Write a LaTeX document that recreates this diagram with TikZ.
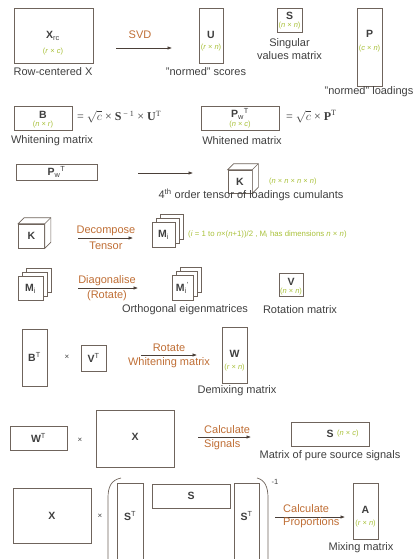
\documentclass[tikz,border=0pt]{standalone}
\usepackage{fontspec}
\setmainfont{Liberation Sans}
\newfontfamily\eqfont{Liberation Serif}
\usetikzlibrary{positioning, calc, arrows.meta}
\definecolor{Dark}{HTML}{3F3F3F}
\definecolor{Rust}{HTML}{BF6E35}
\definecolor{Lime}{HTML}{A9C13A}
\definecolor{Frame}{HTML}{6F645C}
\definecolor{Shaft}{HTML}{4A3F38}
\tikzset{
    matbox/.style={rectangle, draw=Frame, line width=0.7pt, fill=white, inner sep=0pt},
    sym/.style={font=\bfseries\fontsize{10.5}{11}\selectfont, text=Dark, inner sep=0pt},
    dims/.style={font=\fontsize{7.5}{8}\selectfont, text=Lime, inner sep=0pt},
    caption/.style={font=\fontsize{11}{13}\selectfont, text=Dark, align=center, inner sep=0pt},
    verb/.style={font=\fontsize{11}{13}\selectfont, text=Rust, inner sep=0pt},
    eq/.style={font=\eqfont\fontsize{12}{13}\selectfont, text=Dark, inner sep=0pt, anchor=west},
    times/.style={font=\fontsize{8}{9}\selectfont, text=Dark, inner sep=0pt},
    arrow/.style={-{Latex[length=4.5pt,width=3.5pt]}, line width=0.6pt, color=Shaft},
    edge3d/.style={draw=Frame, line width=0.7pt, fill=white},
}

\begin{document}
\begin{tikzpicture}[x=1pt, y=-1pt]
    \useasboundingbox (0,0) rectangle (414,559);

    % SVD
    \node[matbox, minimum width=79, minimum height=55] (Xrc) at (53.5,35.5) {};
    \node[sym] (XrcL) at (53,36) {X\textsubscript{\normalfont rc}};
    \node[dims] at (53,52) {(\textit{r} × \textit{c})};
    \node[caption] at (53,72) {Row-centered X};
    \coordinate (svdA) at (116,48);
    \coordinate (svdB) at (172,48);
    \draw[arrow] (svdA) -- (svdB);
    \node[verb] at (140,35) {SVD};

    \node[matbox, minimum width=24, minimum height=55] (U) at (211,35.5) {};
    \node[sym] at (211,35) {U};
    \node[dims] at (211,48) {(\textit{r} × \textit{n})};
    \node[caption] at (206,72) {"normed" scores};

    \node[matbox, minimum width=25, minimum height=24] (Ssv) at (289.5,20) {};
    \node[sym] at (289.5,16) {S};
    \node[dims] at (289.5,26) {(\textit{n} × \textit{n})};
    \node[caption] at (289.5,49.5) {Singular\\values matrix};

    \node[matbox, minimum width=25, minimum height=78] (P) at (369.5,47) {};
    \node[sym] at (369.5,34) {P};
    \node[dims] at (369.5,49) {(\textit{c} × \textit{n})};
    \node[caption, anchor=east] at (413.5,92) {"normed" loadings};

    % Whitening
    \node[matbox, minimum width=58, minimum height=24] (B) at (43,118) {};
    \node[sym] at (43,115) {B};
    \node[dims] at (43,125) {(\textit{n} × \textit{r})};
    \node[eq] at (77,117) {= $\sqrt{c}$ × \textbf{S}\textsuperscript{ − 1} × \textbf{U}\textsuperscript{T}};
    \node[caption] at (52,141) {Whitening matrix};

    \node[matbox, minimum width=78, minimum height=24] (Pw) at (240,118) {};
    \node[sym] at (240,114) {P\textsubscript{\normalfont w}\textsuperscript{\normalfont T}};
    \node[dims] at (240,125) {(\textit{n} × \textit{c})};
    \node[eq] at (286,117) {= $\sqrt{c}$ × \textbf{P}\textsuperscript{T}};
    \node[caption] at (242,141) {Whitened matrix};

    % Cumulanti
    \node[matbox, minimum width=81, minimum height=16] (PwT) at (56.5,172) {};
    \node[sym] at (56.5,172) {P\textsubscript{\normalfont w}\textsuperscript{\normalfont T}};
    \coordinate (cumA) at (138,173);
    \coordinate (cumB) at (193,173);
    \draw[arrow] (cumA) -- (cumB);
    \node[matbox, minimum width=24, minimum height=23] (K) at (240,181.5) {};
    \draw[edge3d] (K.north west) -- ++(6,-6) -- ($(K.north east)+(6,-6)$) -- ($(K.south east)+(6,-6)$) -- (K.south east) -- (K.north east) -- cycle;
    \draw[Frame, line width=0.7pt] (K.north east) -- ++(6,-6);
    \node[sym] at (240,181.5) {K};
    \node[dims, anchor=west] at (269,182) {(\textit{n} × \textit{n} × \textit{n} × \textit{n})};
    \node[caption] at (251,195) {4\textsuperscript{th} order tensor of loadings cumulants};

    % Decomposizione
    \node[matbox, minimum width=26, minimum height=24] (Kd) at (31.5,236) {};
    \draw[edge3d] (Kd.north west) -- ++(6,-6) -- ($(Kd.north east)+(6,-6)$) -- ($(Kd.south east)+(6,-6)$) -- (Kd.south east) -- (Kd.north east) -- cycle;
    \draw[Frame, line width=0.7pt] (Kd.north east) -- ++(6,-6);
    \node[sym] at (31.5,236) {K};
    \coordinate (decA) at (78,238);
    \coordinate (decB) at (133,238);
    \draw[arrow] (decA) -- (decB);
    \node[verb] at (106,231) {Decompose};
    \node[verb] at (106,245.5) {Tensor};
    \node[matbox, minimum width=23, minimum height=25] (Mi3) at (171.5,226.5) {};
    \node[matbox, minimum width=23, minimum height=25] (Mi2) at (167.5,230.5) {};
    \node[matbox, minimum width=23, minimum height=25] (Mi) at (163.5,234.5) {};
    \node[sym] at (163.5,235) {M\textsubscript{\normalfont i}};
    \node[dims, font=\fontsize{7.8}{8}\selectfont, anchor=west] at (188,234) {(\textit{i} = 1 to \textit{n}×(\textit{n}+1))/2 , M\textsubscript{i} has dimensions \textit{n} × \textit{n})};

    % Diagonalizzazione
    \node[matbox, minimum width=25, minimum height=24] (Md3) at (38.5,280) {};
    \node[matbox, minimum width=25, minimum height=24] (Md2) at (34.5,284) {};
    \node[matbox, minimum width=25, minimum height=24] (Md) at (30.5,288) {};
    \node[sym] at (30.5,289) {M\textsubscript{\normalfont i}};
    \coordinate (diaA) at (78,288);
    \coordinate (diaB) at (138,288);
    \draw[arrow] (diaA) -- (diaB);
    \node[verb] at (107,281) {Diagonalise};
    \node[verb] at (107,295.5) {(Rotate)};
    \node[matbox, minimum width=21, minimum height=25] (Mo3) at (190.5,279.5) {};
    \node[matbox, minimum width=21, minimum height=25] (Mo2) at (186.5,283.5) {};
    \node[matbox, minimum width=21, minimum height=25] (Mo) at (182.5,287.5) {};
    \node[sym] at (182.5,288) {M\textsubscript{\normalfont i}\textsuperscript{\normalfont '}};
    \node[matbox, minimum width=24, minimum height=23] (V) at (291,284.5) {};
    \node[sym] at (291,282) {V};
    \node[dims] at (291,292) {(\textit{n} × \textit{n})};
    \node[caption] at (185,310) {Orthogonal eigenmatrices};
    \node[caption] at (300,310) {Rotation matrix};

    % Demixing
    \node[matbox, minimum width=25, minimum height=57] (BT) at (34.5,357.5) {};
    \node[sym] at (34.5,357) {B\textsuperscript{\normalfont T}};
    \node[times] at (67,357) {×};
    \node[matbox, minimum width=25, minimum height=26] (VT) at (93.5,358) {};
    \node[sym] at (93.5,358) {V\textsuperscript{\normalfont T}};
    \coordinate (rotA) at (141,355);
    \coordinate (rotB) at (197,355);
    \draw[arrow] (rotA) -- (rotB);
    \node[verb] at (169,347.5) {Rotate};
    \node[verb] at (169,362.5) {Whitening matrix};
    \node[matbox, minimum width=25, minimum height=56] (W) at (234.5,355) {};
    \node[sym] at (234.5,354) {W};
    \node[dims] at (234.5,368) {(\textit{r} × \textit{n})};
    \node[caption] at (237,391) {Demixing matrix};

    % Segnali
    \node[matbox, minimum width=57, minimum height=24] (WT) at (38.5,438) {};
    \node[sym] at (38.5,438) {W\textsuperscript{\normalfont T}};
    \node[times] at (80,440) {×};
    \node[matbox, minimum width=78, minimum height=57] (Xs) at (135,438.5) {};
    \node[sym] at (135,437) {X};
    \coordinate (sigA) at (198,437);
    \coordinate (sigB) at (251,437);
    \draw[arrow] (sigA) -- (sigB);
    \node[verb, anchor=west] at (204,429.5) {Calculate};
    \node[verb, anchor=west] at (204,444.5) {Signals};
    \node[matbox, minimum width=78, minimum height=24] (Ssig) at (330,434) {};
    \node[sym] at (330,434) {S};
    \node[dims, anchor=west] at (337,434) {(\textit{n} × \textit{c})};
    \node[caption] at (330,456) {Matrix of pure source signals};

    % Proporzioni
    \node[matbox, minimum width=78, minimum height=55] (Xp) at (52,515.5) {};
    \node[sym] at (52,516) {X};
    \node[times] at (100,516) {×};
    \draw[Frame, line width=0.7pt] (121,478) .. controls (111,480) and (108,487) .. (108,498) -- (108,570);
    \draw[Frame, line width=0.7pt] (257,478) .. controls (265,480) and (268,487) .. (268,498) -- (268,570);
    \node[font=\fontsize{7.5}{8}\selectfont, text=Dark, inner sep=0pt] at (275,482) {-1};
    \node[matbox, minimum width=26, minimum height=117] (STl) at (130,541.5) {};
    \node[sym] at (130,516) {S\textsuperscript{\normalfont T}};
    \node[matbox, minimum width=78, minimum height=24] (Sp) at (191,496) {};
    \node[sym] at (191,496) {S};
    \node[matbox, minimum width=25, minimum height=117] (STr) at (246.5,541.5) {};
    \node[sym] at (246.5,516) {S\textsuperscript{\normalfont T}};
    \coordinate (proA) at (275,517);
    \coordinate (proB) at (345,517);
    \draw[arrow] (proA) -- (proB);
    \node[verb, anchor=west] at (283,508.5) {Calculate};
    \node[verb, anchor=west] at (283,523) {Proportions};
    \node[matbox, minimum width=25, minimum height=56] (A) at (365.5,511) {};
    \node[sym] at (365.5,510) {A};
    \node[dims] at (365.5,524) {(\textit{r} × \textit{n})};
    \node[caption] at (361,548) {Mixing matrix};
\end{tikzpicture}
\end{document}
